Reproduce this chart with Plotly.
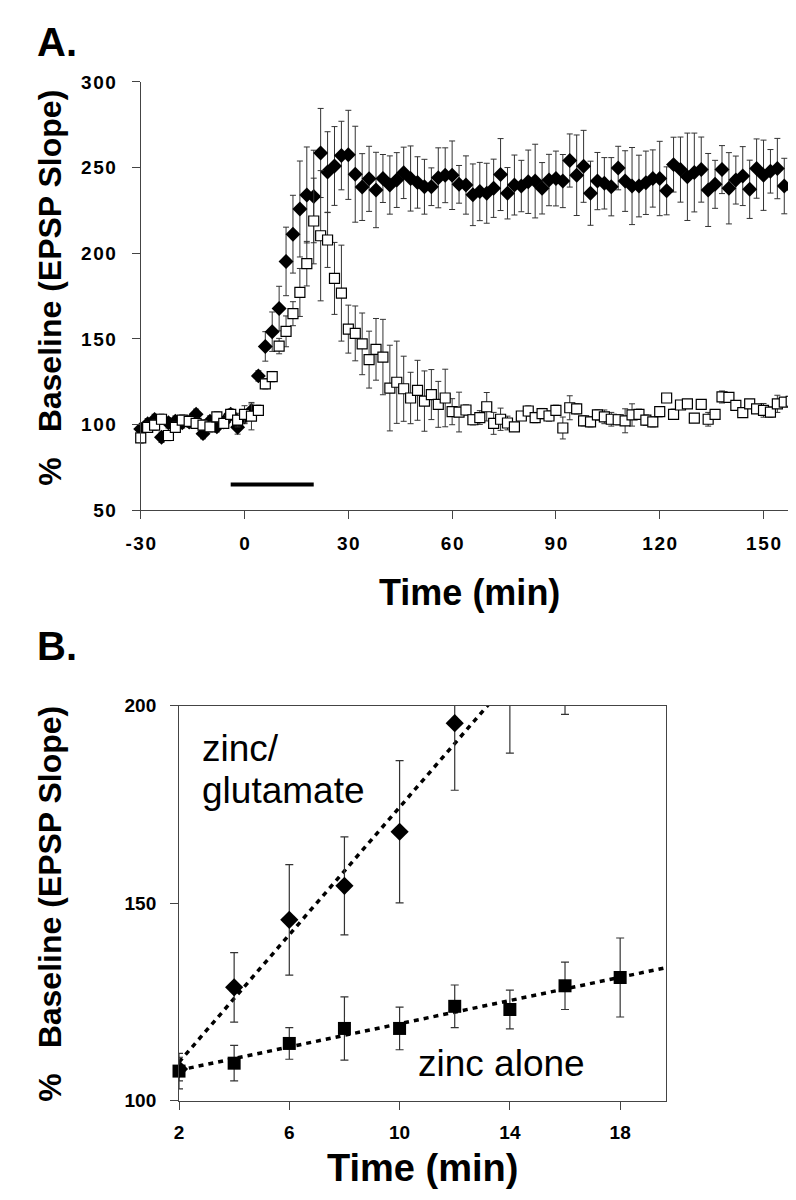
import plotly.graph_objects as go
import numpy as np

W, H = 796, 1200

# ---------------- Panel A data ----------------
time_a = [-30, -28, -26, -24, -22, -20, -18, -16, -14, -12, -10, -8, -6, -4, -2, 0,
          2, 4, 6, 8, 10, 12, 14, 16, 18, 20, 22, 24, 26, 28, 30, 32, 34, 36, 38, 40,
          42, 44, 46, 48, 50, 52, 54, 56, 58, 60, 62, 64, 66, 68, 70, 72, 74, 76, 78,
          80, 82, 84, 86, 88, 90, 92, 94, 96, 98, 100, 102, 104, 106, 108, 110, 112,
          114, 116, 118, 120, 122, 124, 126, 128, 130, 132, 134, 136, 138, 140, 142,
          144, 146, 148, 150, 152, 154, 156, 158, 160]

zincglu_a = [97.4, 100.5, 103, 92.6, 101, 102, 101, 101.5, 106, 94.7, 102, 98.7, 101.5, 106, 98.4, 104.5,
             108, 128.4, 145.6, 154.2, 167.7, 195.2, 211.1, 225.8, 234, 233.1, 258.5, 247.4, 250.9, 257, 257.4, 246.1, 238.6, 243.4, 236.9, 243.6,
             239.8, 242.7, 246.9, 243.6, 241.3, 238.8, 238.8, 244, 245.5, 245.5, 240.2, 239.8, 234.1, 236, 235, 237.9, 245.9, 235, 239.8,
             239.2, 241.7, 242.1, 237.9, 242.7, 243.6, 242.1, 254.1, 245.5, 250.7, 235, 242.1, 240.8, 238.8, 249.7, 242.1, 239.2,
             239.2, 241.1, 243.6, 243.6, 236.4, 251.7, 248.8, 244.6, 247.1, 248.8, 236.9, 240.2, 248.8, 237.9, 242.7,
             245, 237.3, 249.4, 245.5, 247.8, 249.4, 239.2, 238.8, 240.8]
zincglu_a_err = [3, 3, 3, 3, 3, 3, 3, 3, 3, 3, 3, 3, 3, 3, 4, 4,
                 4, 3, 8.6, 11.5, 13, 20, 22.7, 28, 28, 27, 26, 23.5, 23, 20, 26, 28, 19.5, 19, 22, 14,
                 17, 16, 15, 19, 15, 16, 11, 17.5, 16, 20, 11, 17, 18, 17, 17.5, 17, 21, 15, 17.5,
                 15, 18.5, 21.5, 15, 15, 16, 15.5, 15.5, 23.5, 21, 18.7, 16.7, 15, 17, 12.7, 17.7, 22.5,
                 18, 18.5, 16.7, 21.7, 14, 16, 19, 25.5, 23, 19, 21.3, 14, 14, 20.8, 14,
                 17.2, 17, 17.3, 20.5, 12.7, 17.6, 16.2, 18.3, 18]

open_a = [92.2, 98.4, 99.7, 103.1, 93.6, 98.4, 102.6, 101.8, 100.7, 99.7, 98.7, 104.5, 100.7, 106, 102.6, 106,
          104.9, 108.3, 123.8, 128, 145.8, 154.4, 164.7, 177.1, 193.9, 218.8, 210.2, 207.7, 185.3, 176.7, 155.7, 153.2, 147.1, 137.9, 143.9, 139.4,
          121.3, 124.7, 120.9, 115.5, 120, 113.7, 117.5, 111.8, 115.5, 107.5, 107.3, 108.5, 102.8, 104.1, 110.4, 100.7, 103.1, 100.9, 98.7,
          105, 107.9, 104.1, 106.4, 105, 108.3, 98, 109.8, 109.2, 102.2, 101.6, 105.6, 104.5, 103.1, 102.8, 102.2, 105.6,
          106, 102.6, 101.6, 107.5, 115.5, 106, 111.4, 112.1, 103.7, 111.8, 103.1, 106, 116.1, 115.9, 111.2,
          107, 112.1, 109.2, 108.3, 107.3, 112.1, 113.1, 113.6, 109.2]
open_a_err = [3, 3, 3, 3, 3, 3, 3, 3, 3, 3, 3, 3, 3, 3, 4, 5,
              8, 3, 3, 3, 4.5, 9, 7, 14, 13, 25, 38, 16, 21, 28, 14, 16, 18, 16.6, 18, 22,
              25, 24, 19, 15, 17.5, 17.6, 14.6, 13.4, 16.8, 7.6, 11.6, 3, 3, 4, 8.3, 6.4, 6.5, 4, 2,
              2, 3, 3, 3, 3, 3, 6.4, 7, 3, 3, 3, 3, 4, 4, 3, 7, 6.5,
              3, 3, 3, 3, 2, 3, 2, 2, 2, 2, 4, 2, 3.5, 2, 2,
              2, 2, 2, 4, 3, 5, 2, 2, 2]

# application period bar
bar_time = [-4, 20]
bar_level = [65, 65]

xticks_a = [-30, 0, 30, 60, 90, 120, 150]
yticks_a = [50, 100, 150, 200, 250, 300]

# ---------------- Panel B data ----------------
time_b = [2, 4, 6, 8, 10, 12, 14, 16, 18]
zincglu_b = [108, 128.7, 145.8, 154.4, 168.1, 195.6, 211, 225.8, 234]
zincglu_b_err = [3, 8.8, 14, 12.4, 18, 17, 23, 28, 26]
zincalone_b = [107.5, 109.5, 114.5, 118.3, 118.3, 123.9, 123.1, 129.1, 131.2]
zincalone_b_err = [4.5, 4.5, 4, 8, 5.4, 5.4, 4.9, 6, 10]
fit_points_glu = 6   # regression over the first 6 time points

xticks_b = [2, 6, 10, 14, 18]
yticks_b = [100, 150, 200]
xrange_b = [2, 19.65]

# ---------------- figure ----------------
FONT = "Liberation Sans, Arial, sans-serif"
INK = "#000000"
AX = "#444444"


def px_x(a, b):
    return [a / W, b / W]


def px_y(top, bottom):
    return [1 - bottom / H, 1 - top / H]


fig = go.Figure()

# Panel A
fig.add_trace(go.Scatter(x=bar_time, y=bar_level, mode="lines",
                         line=dict(color=INK, width=4), xaxis="x", yaxis="y",
                         showlegend=False, hoverinfo="skip"))
fig.add_trace(go.Scatter(x=time_a, y=zincglu_a, mode="markers", xaxis="x", yaxis="y",
                         marker=dict(symbol="diamond", size=11.5, color=INK),
                         error_y=dict(type="data", array=zincglu_a_err, color="#333333",
                                      thickness=1, width=3),
                         cliponaxis=False, showlegend=False))
fig.add_trace(go.Scatter(x=time_a, y=open_a, mode="markers", xaxis="x", yaxis="y",
                         marker=dict(symbol="square", size=10, color="white",
                                     line=dict(color=INK, width=1.2)),
                         error_y=dict(type="data", array=open_a_err, color="#333333",
                                      thickness=1, width=3),
                         cliponaxis=False, showlegend=False))

# Panel B fits
tb = np.array(time_b, dtype=float)
xline = np.array(xrange_b)
c_glu = np.polyfit(tb[:fit_points_glu], np.array(zincglu_b[:fit_points_glu]), 1)
c_za = np.polyfit(tb, np.array(zincalone_b), 1)
fig.add_trace(go.Scatter(x=xline, y=np.polyval(c_glu, xline), mode="lines",
                         line=dict(color=INK, width=3.5, dash="5px,5px"),
                         xaxis="x2", yaxis="y2", showlegend=False, hoverinfo="skip"))
fig.add_trace(go.Scatter(x=xline, y=np.polyval(c_za, xline), mode="lines",
                         line=dict(color=INK, width=3.5, dash="5px,5px"),
                         xaxis="x2", yaxis="y2", showlegend=False, hoverinfo="skip"))
fig.add_trace(go.Scatter(x=time_b, y=zincglu_b, mode="markers", xaxis="x2", yaxis="y2",
                         marker=dict(symbol="diamond", size=14, color=INK),
                         error_y=dict(type="data", array=zincglu_b_err, color="#333333",
                                      thickness=1.2, width=4),
                         showlegend=False))
fig.add_trace(go.Scatter(x=time_b, y=zincalone_b, mode="markers", xaxis="x2", yaxis="y2",
                         marker=dict(symbol="square", size=13, color=INK),
                         error_y=dict(type="data", array=zincalone_b_err, color="#333333",
                                      thickness=1.2, width=4),
                         cliponaxis=False, showlegend=False))

tickfont = dict(family=FONT, size=19, color=INK, weight="bold")
hair = "\u200a"

fig.update_layout(
    width=W, height=H, margin=dict(l=0, r=0, t=0, b=0),
    paper_bgcolor="white", plot_bgcolor="white",
    font=dict(family=FONT, color=INK),
    xaxis=dict(domain=px_x(120, 790), range=[-30, 160], tickvals=xticks_a,
               ticktext=[hair.join(str(v)) for v in xticks_a],
               showline=True, linecolor=AX, linewidth=1, ticks="outside",
               ticklen=8, tickcolor=AX, showgrid=False, zeroline=False,
               tickfont=tickfont, ticklabelstandoff=8, anchor="y"),
    yaxis=dict(domain=px_y(65, 501), range=[50, 300], tickvals=yticks_a,
               ticktext=[hair.join(str(v)) for v in yticks_a],
               showline=True, linecolor=AX, linewidth=1, ticks="outside",
               ticklen=8, tickcolor=AX, showgrid=False, zeroline=False,
               tickfont=tickfont, ticklabelstandoff=12, anchor="x"),
    xaxis2=dict(domain=px_x(159, 655), range=xrange_b, tickvals=xticks_b,
                showline=True, mirror=True, linecolor=AX, linewidth=1,
                ticks="outside", ticklen=8, tickcolor=AX, showgrid=False,
                zeroline=False, tickfont=tickfont, ticklabelstandoff=6, anchor="y2"),
    yaxis2=dict(domain=px_y(700, 1102), range=[100, 200], tickvals=yticks_b,
                showline=True, mirror=True, linecolor=AX, linewidth=1,
                ticks="outside", ticklen=8, tickcolor=AX, showgrid=False,
                zeroline=False, tickfont=tickfont, ticklabelstandoff=10, anchor="x2"),
)

title_font = dict(family=FONT, size=32, color=INK, weight="bold")
letter_font = dict(family=FONT, size=40, color=INK, weight="bold")
label_font = dict(family=FONT, size=37, color=INK)

annotations = [
    dict(text="A.", x=12 / W, y=1 - 0 / H, xref="paper", yref="paper",
         xanchor="left", yanchor="top", showarrow=False, font=letter_font),
    dict(text="B.", x=12 / W, y=1 - 615 / H, xref="paper", yref="paper",
         xanchor="left", yanchor="top", showarrow=False, font=letter_font),
    dict(text="%\u2002 Baseline (EPSP Slope)", x=28 / W, y=1 - 274 / H,
         xref="paper", yref="paper", textangle=-90, showarrow=False,
         xanchor="center", yanchor="middle", font=title_font),
    dict(text="Time (min)", x=455 / W, y=1 - 585 / H, xref="paper", yref="paper",
         showarrow=False, xanchor="center", yanchor="middle",
         font=dict(family=FONT, size=36, color=INK, weight="bold")),
    dict(text="%\u2002 Baseline (EPSP Slope)", x=28 / W, y=1 - 901 / H,
         xref="paper", yref="paper", textangle=-90, showarrow=False,
         xanchor="center", yanchor="middle", font=title_font),
    dict(text="Time (min)", x=407 / W, y=1 - 1170 / H, xref="paper", yref="paper",
         showarrow=False, xanchor="center", yanchor="middle",
         font=dict(family=FONT, size=38, color=INK, weight="bold")),
    dict(text="zinc/", x=2.75, y=189.2, xref="x2", yref="y2", showarrow=False,
         xanchor="left", yanchor="middle", font=label_font),
    dict(text="glutamate", x=2.75, y=178.6, xref="x2", yref="y2", showarrow=False,
         xanchor="left", yanchor="middle", font=label_font),
    dict(text="zinc alone", x=13.7, y=109.5, xref="x2", yref="y2", showarrow=False,
         xanchor="center", yanchor="middle", font=label_font),
]
fig.update_layout(annotations=annotations)

fig.write_html("out.html")
